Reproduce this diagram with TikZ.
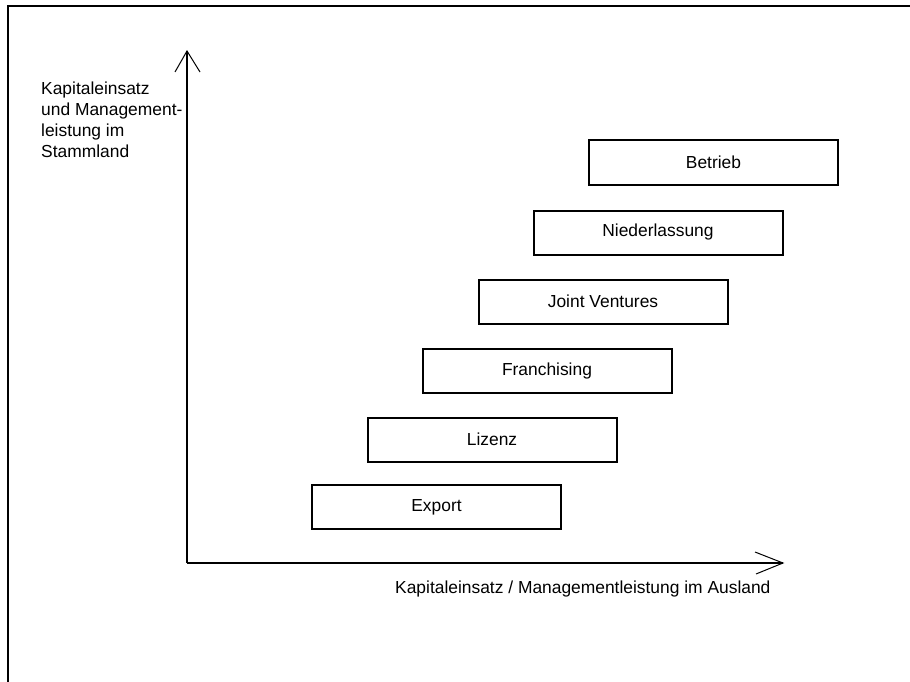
\documentclass[tikz,border=0pt]{standalone}
\usepackage{fontspec}
\setmainfont{Liberation Sans}
\begin{document}
\begin{tikzpicture}[x=1pt,y=-1pt,
  lbl/.style={font=\fontsize{17.4}{21}\selectfont, inner sep=0pt},
  stagebox/.style={draw, line width=2pt, minimum width=249pt, minimum height=44pt, inner sep=0pt, font=\fontsize{17.4}{21}\selectfont},
  axisline/.style={line width=2pt},
  headline/.style={line width=1pt}]
\useasboundingbox (0,0) rectangle (910,682);
% frame
\draw[line width=2pt] (8,682) -- (8,6) -- (910,6);
% axes
\coordinate (o) at (187,563);
\coordinate (ytop) at (187,51);
\coordinate (xend) at (783,563);
\draw[axisline] (o) -- (ytop);
\draw[axisline] (o) -- (xend);
\draw[headline] (ytop) ++(-12,21) -- (ytop) -- ++(13,21);
\draw[headline] (xend) ++(-28,-11) -- (xend) -- ++(-27,11);
% axis labels
\node[lbl, anchor=north west, align=left] (ylab) at (41,82) {Kapitaleinsatz\\und Management-\\leistung im\\Stammland};
\node[lbl, anchor=base west] (xlab) at (395,593) {Kapitaleinsatz / Managementleistung im Ausland};
% boxes
\node[stagebox] (export) at (436.5,507) {Export};
\node[stagebox] (lizenz) at (492,439.5) {Lizenz};
\node[stagebox] (franch) at (547,370.5) {Franchising};
\node[stagebox] (joint) at (603,301.5) {Joint Ventures};
\node[stagebox] (nieder) at (658,232.5) {Niederlassung};
\node[stagebox] (betrieb) at (713.5,162.5) {Betrieb};
\end{tikzpicture}
\end{document}
